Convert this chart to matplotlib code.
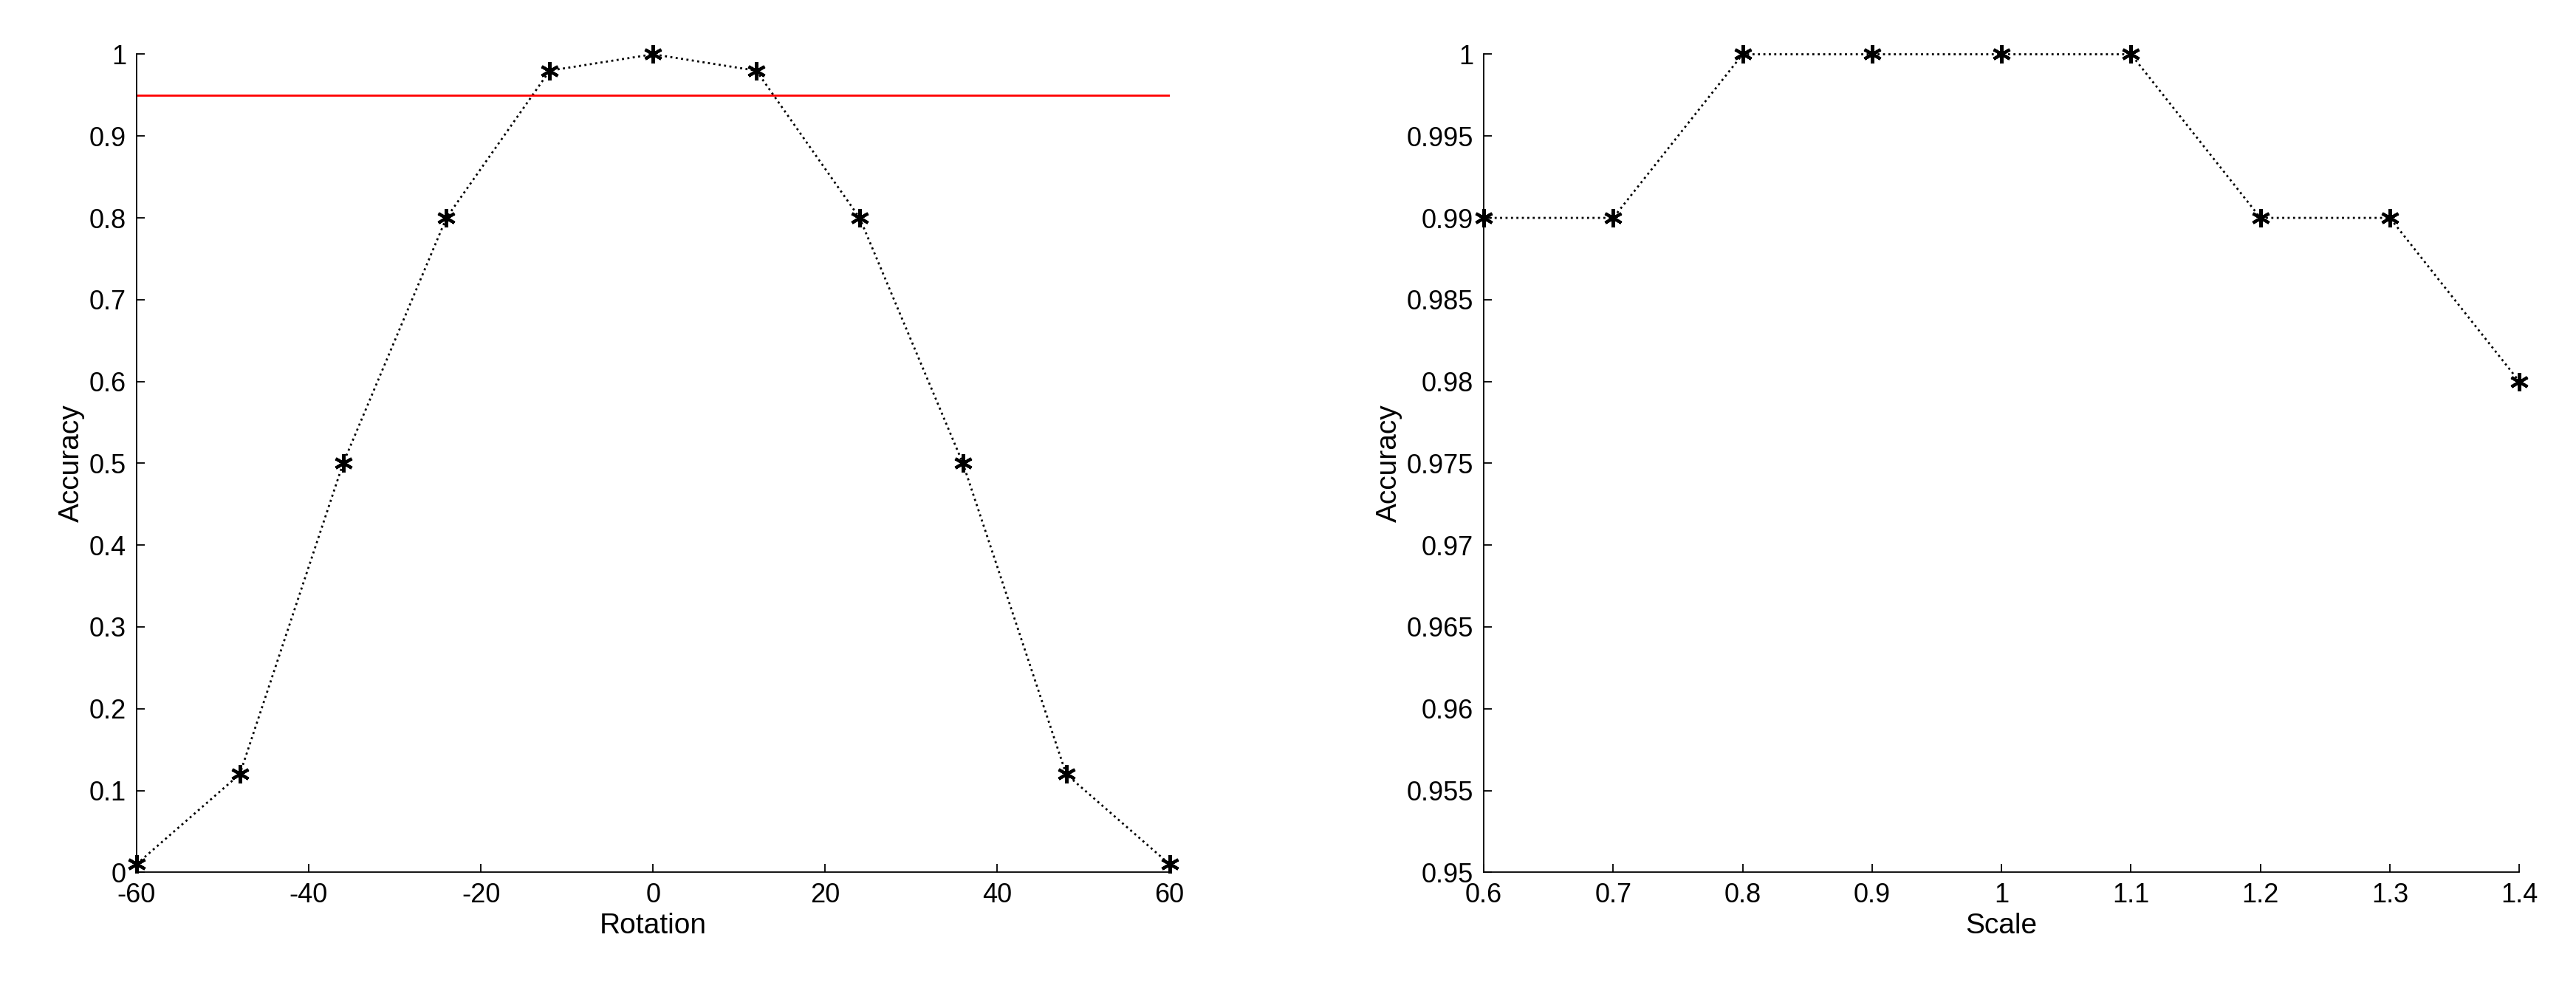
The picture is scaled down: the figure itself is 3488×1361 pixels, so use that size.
import matplotlib
matplotlib.use("Agg")
import matplotlib.pyplot as plt
import numpy as np

rot_x = [-60, -48, -36, -24, -12, 0, 12, 24, 36, 48, 60]
rot_acc = [0.01, 0.12, 0.5, 0.8, 0.98, 1.0, 0.98, 0.8, 0.5, 0.12, 0.01]
threshold = 0.95
scale_x = [0.6, 0.7, 0.8, 0.9, 1.0, 1.1, 1.2, 1.3, 1.4]
scale_acc = [0.99, 0.99, 1.0, 1.0, 1.0, 1.0, 0.99, 0.99, 0.98]

plt.rcParams['font.family'] = ['Liberation Sans', 'DejaVu Sans']
plt.rcParams['axes.unicode_minus'] = False
fig = plt.figure(figsize=(34.88, 13.61), dpi=100)
ax1 = fig.add_axes([0.053, 0.132, 0.401, 0.814])
ax2 = fig.add_axes([0.576, 0.132, 0.402, 0.814])

def style(ax):
    for s in ['top', 'right']:
        ax.spines[s].set_visible(False)
    for s in ['left', 'bottom']:
        ax.spines[s].set_linewidth(1.3)
    ax.tick_params(direction='in', labelsize=26, length=8, width=1.3, pad=10)

mk = dict(marker=(6, 2, 0), markersize=18, markeredgewidth=3, linewidth=2, clip_on=False)
ax1.plot(rot_x, rot_acc, 'k:', **mk)
ax1.plot([rot_x[0], rot_x[-1]], [threshold, threshold], color='red', linewidth=2)
ax1.set_xlim(-60, 60)
ax1.set_ylim(0, 1)
ax1.set_xticks(np.arange(-60, 61, 20))
ax1.set_yticks(np.arange(0, 1.01, 0.1))
ax1.set_yticklabels(['0', '0.1', '0.2', '0.3', '0.4', '0.5', '0.6', '0.7', '0.8', '0.9', '1'])
ax1.set_xlabel('Rotation', fontsize=28)
ax1.set_ylabel('Accuracy', fontsize=28)
style(ax1)

ax2.plot(scale_x, scale_acc, 'k:', **mk)
ax2.set_xlim(0.6, 1.4)
ax2.set_ylim(0.95, 1)
ax2.set_xticks(scale_x)
ax2.set_xticklabels(['0.6', '0.7', '0.8', '0.9', '1', '1.1', '1.2', '1.3', '1.4'])
yt = np.arange(0.95, 1.0001, 0.005)
ax2.set_yticks(yt)
ax2.set_yticklabels(['%g' % round(v, 3) for v in yt])
ax2.set_xlabel('Scale', fontsize=28)
ax2.set_ylabel('Accuracy', fontsize=28)
style(ax2)

fig.savefig('out.png', dpi=100)
